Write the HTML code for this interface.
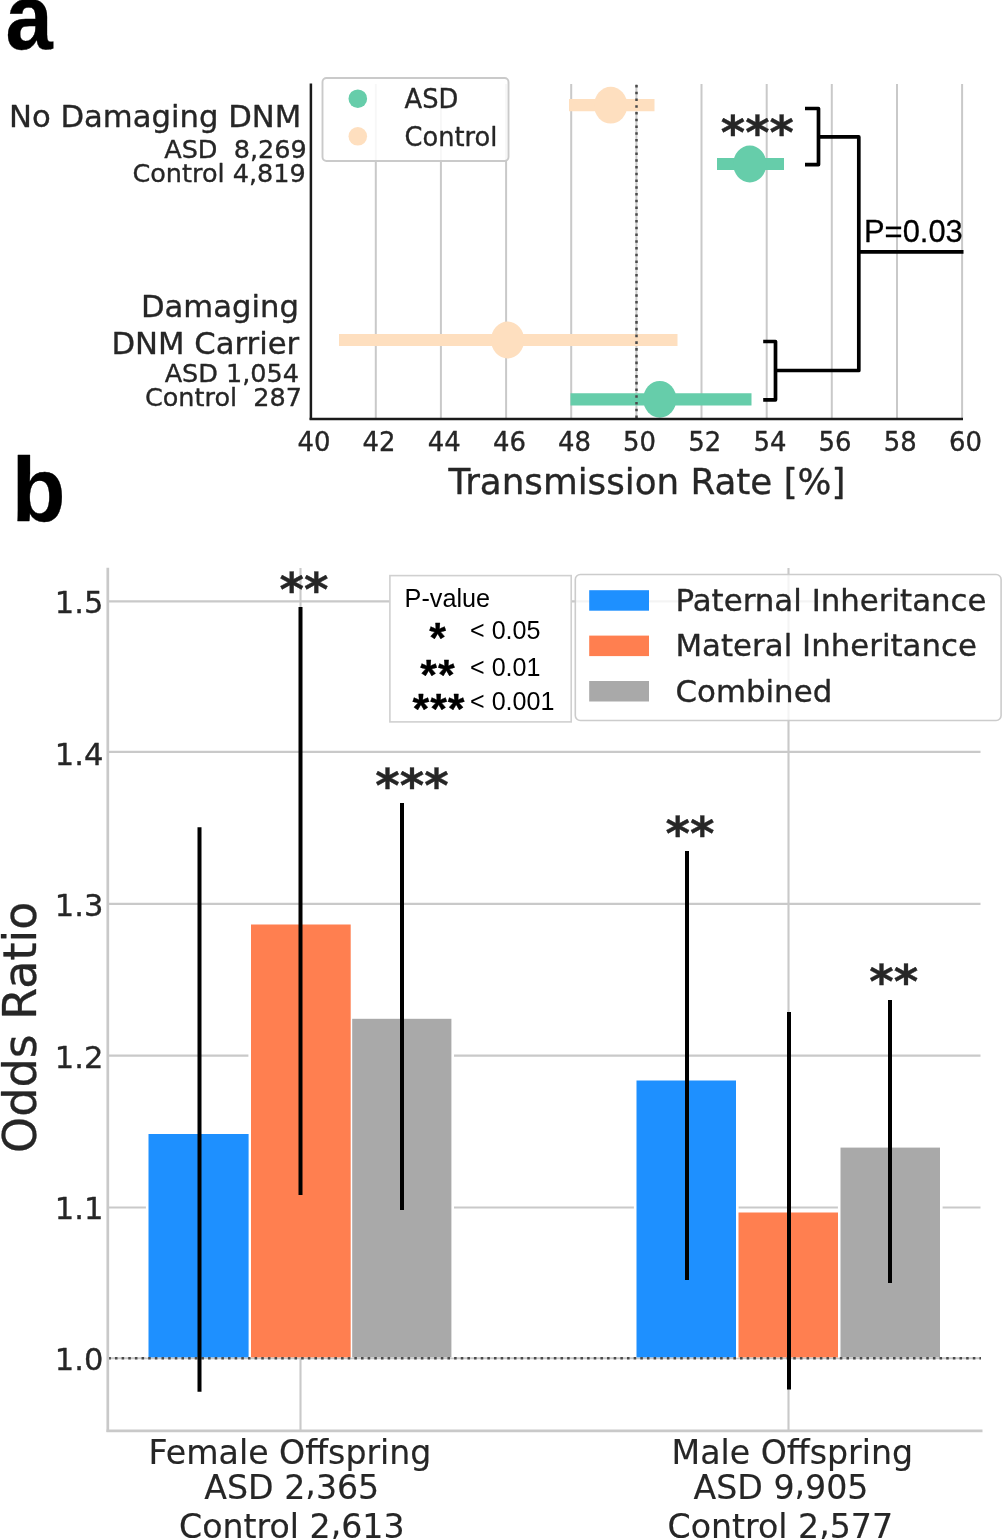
<!DOCTYPE html>
<html lang="en">
<head>
<meta charset="utf-8">
<title>Transmission rate and odds ratio figure</title>
<style>
html,body{margin:0;padding:0;background:#fff;}
body{width:1002px;height:1539px;overflow:hidden;}
svg{display:block;}
text{font-family:"DejaVu Sans","Liberation Sans",sans-serif;fill:#262626;stroke:#262626;stroke-width:0.35px;stroke-linejoin:round;}
.ar{font-family:"Liberation Sans",sans-serif;fill:#000;stroke:#000;stroke-width:0.3px;}
.b{font-weight:bold;}
.lt{stroke-width:0.15px;}
.ns{stroke:none;}
</style>
</head>
<body>
<svg width="1002" height="1539" viewBox="0 0 1002 1539">
<rect x="0" y="0" width="1002" height="1539" fill="#ffffff"/>

<g id="panel-a">
<text class="ar b" transform="translate(5.4,48.6) scale(1,1.085)" x="0" y="0" font-size="85">a</text>
<line x1="375.8" y1="84" x2="375.8" y2="418" stroke="#c9c9c9" stroke-width="2"/>
<line x1="440.9" y1="84" x2="440.9" y2="418" stroke="#c9c9c9" stroke-width="2"/>
<line x1="506.1" y1="84" x2="506.1" y2="418" stroke="#c9c9c9" stroke-width="2"/>
<line x1="571.2" y1="84" x2="571.2" y2="418" stroke="#c9c9c9" stroke-width="2"/>
<line x1="636.4" y1="84" x2="636.4" y2="418" stroke="#c9c9c9" stroke-width="2"/>
<line x1="701.5" y1="84" x2="701.5" y2="418" stroke="#c9c9c9" stroke-width="2"/>
<line x1="766.7" y1="84" x2="766.7" y2="418" stroke="#c9c9c9" stroke-width="2"/>
<line x1="831.8" y1="84" x2="831.8" y2="418" stroke="#c9c9c9" stroke-width="2"/>
<line x1="897.0" y1="84" x2="897.0" y2="418" stroke="#c9c9c9" stroke-width="2"/>
<line x1="962.1" y1="84" x2="962.1" y2="418" stroke="#c9c9c9" stroke-width="2"/>
<line x1="569" y1="105.2" x2="654.5" y2="105.2" stroke="#fedfbf" stroke-width="12.2"/>
<ellipse cx="610.7" cy="105.2" rx="16.6" ry="18.4" fill="#fedfbf"/>
<line x1="717" y1="164" x2="784" y2="164" stroke="#66cdaa" stroke-width="12.2"/>
<ellipse cx="749.8" cy="164" rx="16.6" ry="18.4" fill="#66cdaa"/>
<line x1="339" y1="340.0" x2="677.5" y2="340.0" stroke="#fedfbf" stroke-width="12.2"/>
<ellipse cx="507.6" cy="340.0" rx="16.6" ry="18.4" fill="#fedfbf"/>
<line x1="570.5" y1="399.3" x2="751.5" y2="399.3" stroke="#66cdaa" stroke-width="12.2"/>
<ellipse cx="659.8" cy="399.3" rx="16.6" ry="18.4" fill="#66cdaa"/>
<line x1="636.5" y1="418.1" x2="636.5" y2="83.5" stroke="#4a4a4a" stroke-width="2.5" stroke-dasharray="2.55 4.195"/>
<line x1="310.9" y1="83.5" x2="310.9" y2="419.8" stroke="#1a1a1a" stroke-width="2.5"/>
<line x1="309.6" y1="418.9" x2="963" y2="418.9" stroke="#1a1a1a" stroke-width="2.5"/>
<path d="M805 108.5 H818.5 V164.6 H805 M818.5 136.9 H858.8 V370.5 H775.5 M858.8 251.8 H963.5 M763.2 341.5 H775.5 V399.8 H763.2" fill="none" stroke="#000" stroke-width="3.7" stroke-linejoin="round"/>
<text class="b" x="757.3" y="148.7" font-size="46.5" text-anchor="middle">***</text>
<text class="ar" x="864" y="241.5" font-size="30.9">P=0.03</text>
<rect x="322.5" y="78" width="186" height="83" rx="4" ry="4" fill="#ffffff" fill-opacity="0.85" stroke="#cacaca" stroke-width="1.9"/>
<circle cx="357.8" cy="98.7" r="9.3" fill="#66cdaa"/>
<circle cx="357.8" cy="136.3" r="9.3" fill="#fedfbf"/>
<text x="404.6" y="107.7" font-size="25.7">ASD</text>
<text x="404.6" y="145.6" font-size="25.7">Control</text>
<text x="301.3" y="126.8" font-size="30.7" text-anchor="end">No Damaging DNM</text>
<text x="306.7" y="158.2" font-size="25.5" text-anchor="end" xml:space="preserve">ASD  8,269</text>
<text x="305.7" y="181.8" font-size="25.5" text-anchor="end">Control 4,819</text>
<text x="299" y="317" font-size="30.7" text-anchor="end">Damaging</text>
<text x="299.2" y="353.5" font-size="30.7" text-anchor="end">DNM Carrier</text>
<text x="299" y="382.3" font-size="25.5" text-anchor="end">ASD 1,054</text>
<text x="302" y="406.3" font-size="25.5" text-anchor="end" xml:space="preserve">Control  287</text>
<text x="313.9" y="451.4" font-size="25.9" text-anchor="middle">40</text>
<text x="379.1" y="451.4" font-size="25.9" text-anchor="middle">42</text>
<text x="444.2" y="451.4" font-size="25.9" text-anchor="middle">44</text>
<text x="509.4" y="451.4" font-size="25.9" text-anchor="middle">46</text>
<text x="574.5" y="451.4" font-size="25.9" text-anchor="middle">48</text>
<text x="639.6" y="451.4" font-size="25.9" text-anchor="middle">50</text>
<text x="704.8" y="451.4" font-size="25.9" text-anchor="middle">52</text>
<text x="770.0" y="451.4" font-size="25.9" text-anchor="middle">54</text>
<text x="835.1" y="451.4" font-size="25.9" text-anchor="middle">56</text>
<text x="900.2" y="451.4" font-size="25.9" text-anchor="middle">58</text>
<text x="965.4" y="451.4" font-size="25.9" text-anchor="middle">60</text>
<text x="647" y="494.3" font-size="35.7" text-anchor="middle">Transmission Rate [%]</text>
</g>
<g id="panel-b">
<text class="ar b" transform="translate(11.7,520.5) scale(1,1.04)" x="0" y="0" font-size="88">b</text>
<line x1="108" y1="1358.2" x2="980.5" y2="1358.2" stroke="#c9c9c9" stroke-width="2.1"/>
<line x1="108" y1="1207.5" x2="980.5" y2="1207.5" stroke="#c9c9c9" stroke-width="2.1"/>
<line x1="108" y1="1055.6" x2="980.5" y2="1055.6" stroke="#c9c9c9" stroke-width="2.1"/>
<line x1="108" y1="903.9" x2="980.5" y2="903.9" stroke="#c9c9c9" stroke-width="2.1"/>
<line x1="108" y1="751.9" x2="980.5" y2="751.9" stroke="#c9c9c9" stroke-width="2.1"/>
<line x1="108" y1="601.4" x2="980.5" y2="601.4" stroke="#c9c9c9" stroke-width="2.1"/>
<line x1="300.5" y1="568" x2="300.5" y2="1431" stroke="#c9c9c9" stroke-width="2.1"/>
<line x1="788.5" y1="568" x2="788.5" y2="1431" stroke="#c9c9c9" stroke-width="2.1"/>
<rect x="145.9" y="1131.4" width="105.3" height="226.0" fill="#ffffff"/>
<rect x="248.4" y="921.9" width="104.9" height="435.5" fill="#ffffff"/>
<rect x="349.6" y="1016.2" width="104.4" height="341.2" fill="#ffffff"/>
<rect x="633.9" y="1077.9" width="104.7" height="279.5" fill="#ffffff"/>
<rect x="735.9" y="1209.9" width="104.7" height="147.5" fill="#ffffff"/>
<rect x="837.9" y="1145.0" width="104.7" height="212.4" fill="#ffffff"/>
<rect x="148.5" y="1134.0" width="100.1" height="223.4" fill="#1e90ff"/>
<rect x="251.0" y="924.5" width="99.7" height="432.9" fill="#ff7f50"/>
<rect x="352.2" y="1018.8" width="99.2" height="338.6" fill="#a9a9a9"/>
<rect x="636.5" y="1080.5" width="99.5" height="276.9" fill="#1e90ff"/>
<rect x="738.5" y="1212.5" width="99.5" height="144.9" fill="#ff7f50"/>
<rect x="840.5" y="1147.6" width="99.5" height="209.8" fill="#a9a9a9"/>
<line x1="108.3" y1="1358.2" x2="981" y2="1358.2" stroke="#4a4a4a" stroke-width="2.5" stroke-dasharray="2.55 4.1"/>
<line x1="199.5" y1="827.3" x2="199.5" y2="1391.8" stroke="#000" stroke-width="4"/>
<line x1="300.5" y1="607" x2="300.5" y2="1195" stroke="#000" stroke-width="4"/>
<line x1="402" y1="803" x2="402" y2="1210" stroke="#000" stroke-width="4"/>
<line x1="687" y1="851" x2="687" y2="1280" stroke="#000" stroke-width="4"/>
<line x1="789" y1="1012" x2="789" y2="1389.6" stroke="#000" stroke-width="4"/>
<line x1="890" y1="1000" x2="890" y2="1283" stroke="#000" stroke-width="4"/>
<line x1="107.8" y1="567.7" x2="107.8" y2="1432" stroke="#c9c9c9" stroke-width="2.7"/>
<line x1="106.5" y1="1430.8" x2="982.5" y2="1430.8" stroke="#c9c9c9" stroke-width="2.7"/>
<text class="b" x="304" y="606" font-size="46.8" text-anchor="middle">**</text>
<text class="b" x="412" y="802" font-size="46.8" text-anchor="middle">***</text>
<text class="b" x="690" y="850" font-size="46.8" text-anchor="middle">**</text>
<text class="b" x="893.8" y="998" font-size="46.8" text-anchor="middle">**</text>
<text x="103.3" y="1370.2" font-size="30.5" text-anchor="end">1.0</text>
<text x="103.3" y="1218.8" font-size="30.5" text-anchor="end">1.1</text>
<text x="103.3" y="1067.5" font-size="30.5" text-anchor="end">1.2</text>
<text x="103.3" y="916.1" font-size="30.5" text-anchor="end">1.3</text>
<text x="103.3" y="764.7" font-size="30.5" text-anchor="end">1.4</text>
<text x="103.3" y="613.4" font-size="30.5" text-anchor="end">1.5</text>
<text class="lt" transform="translate(36.2,1027.3) rotate(-90)" font-size="46" text-anchor="middle" style="stroke-width:0.3px">Odds Ratio</text>
<text class="lt" transform="translate(290,1463.8)" font-size="33.2" text-anchor="middle">Female Offspring</text>
<text class="lt" transform="translate(291.8,1498.6)" font-size="33.2" text-anchor="middle">ASD 2<tspan dy="-3.4">,</tspan><tspan dy="3.4">365</tspan></text>
<text class="lt" transform="translate(291.8,1538.0)" font-size="33.2" text-anchor="middle">Control 2<tspan dy="-3.4">,</tspan><tspan dy="3.4">613</tspan></text>
<text class="lt" transform="translate(792.3,1463.8)" font-size="33.2" text-anchor="middle">Male Offspring</text>
<text class="lt" transform="translate(781.0,1498.6)" font-size="33.2" text-anchor="middle">ASD 9<tspan dy="-3.4">,</tspan><tspan dy="3.4">905</tspan></text>
<text class="lt" transform="translate(780.3,1538.0)" font-size="33.2" text-anchor="middle">Control 2<tspan dy="-3.4">,</tspan><tspan dy="3.4">577</tspan></text>
<rect x="389.9" y="575.6" width="181.3" height="146.3" fill="#ffffff" stroke="#d0d0d0" stroke-width="1.6"/>
<text class="ar ns" x="404.6" y="607" font-size="25.2">P-value</text>
<text class="ar b" x="437.9" y="651.6" font-size="43" letter-spacing="0.8" text-anchor="middle">*</text>
<text class="ar b" x="437.9" y="688.5" font-size="43" letter-spacing="0.8" text-anchor="middle">**</text>
<text class="ar b" x="438.9" y="722.7" font-size="43" letter-spacing="0.8" text-anchor="middle">***</text>
<text class="ar ns" x="470" y="639" font-size="25.1">&lt; 0.05</text>
<text class="ar ns" x="470" y="675.6" font-size="25.1">&lt; 0.01</text>
<text class="ar ns" x="470" y="710.4" font-size="25.1">&lt; 0.001</text>
<rect x="575.3" y="574.5" width="425.8" height="146" rx="5" ry="5" fill="#ffffff" fill-opacity="0.8" stroke="#cccccc" stroke-width="1.6"/>
<rect x="589.2" y="590.2" width="59.8" height="20.5" fill="#1e90ff"/>
<text x="675.5" y="611.0" font-size="30.85">Paternal Inheritance</text>
<rect x="589.2" y="635.6" width="59.8" height="20.5" fill="#ff7f50"/>
<text x="675.5" y="656.4" font-size="30.85">Materal Inheritance</text>
<rect x="589.2" y="681.0" width="59.8" height="20.5" fill="#a9a9a9"/>
<text x="675.5" y="701.8" font-size="30.85">Combined</text>
</g>
</svg>
</body>
</html>
